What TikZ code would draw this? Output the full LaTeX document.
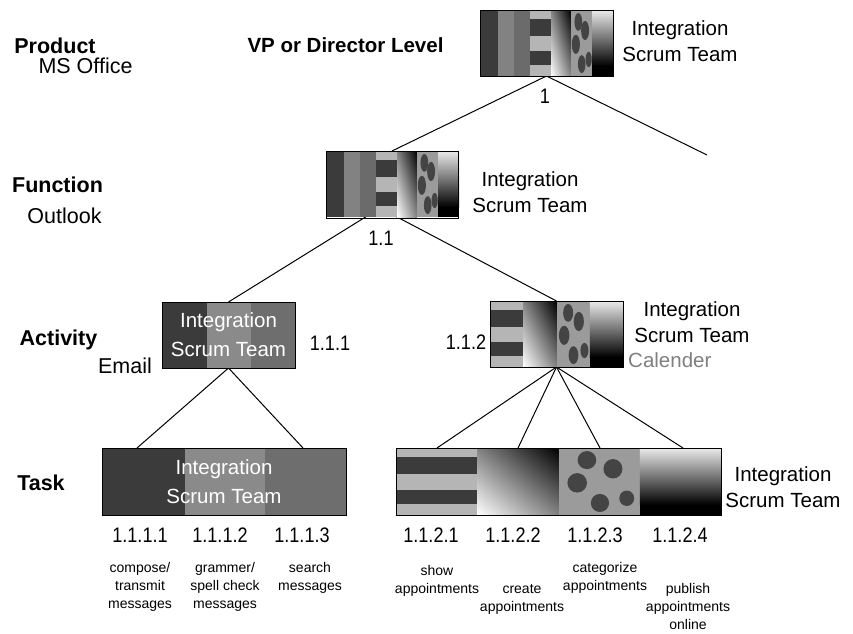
\documentclass[tikz,border=0pt]{standalone}
\usepackage{fontspec}
\setmainfont{Liberation Sans}
\newfontfamily\numfont{Liberation Sans}[FakeStretch=0.86]
\usetikzlibrary{backgrounds,calc,shadings}
\definecolor{dgray}{HTML}{3B3B3B}
\definecolor{mgray}{HTML}{828282}
\definecolor{mgraytwo}{HTML}{6B6B6B}
\definecolor{lgray}{HTML}{B5B5B5}
\definecolor{dotbg}{HTML}{9B9B9B}
\definecolor{dotc}{HTML}{444444}
\definecolor{bandlight}{HTML}{8A8A8A}
\definecolor{bandmid}{HTML}{6E6E6E}
\definecolor{calgray}{HTML}{808080}
\newcommand\fsz[2]{\fontsize{#1}{#2}\selectfont}
% column patterns: x0 y0 w h
\newcommand\ColStripes[4]{%
  \fill[lgray] (#1,#2) rectangle ++(#3,#4);
  \fill[dgray] (#1,{#2+0.13*#4}) rectangle ++(#3,{0.26*#4});
  \fill[dgray] (#1,{#2+0.62*#4}) rectangle ++(#3,{0.22*#4});
}
\newcommand\ColDiag[4]{%
  \shade[upper left=mgray, upper right=black, lower left=white, lower right=mgray]
    (#1,#2) rectangle ++(#3,#4);
}
\newcommand\ColVGrad[4]{%
  \fill[black] (#1,#2) rectangle ++(#3,#4);
  \shade[top color=white!92!black, bottom color=black] (#1,#2) rectangle ++(#3,{0.85*#4});
}
\newcommand\ColDots[4]{%
  \begin{scope}
  \clip (#1,#2) rectangle ++(#3,#4);
  \fill[dotbg] (#1,#2) rectangle ++(#3,#4);
  \fill[dotc] ({#1+0.35*#3},{#2+0.18*#4}) ellipse [x radius={2+0.09*#3}, y radius={0.135*#4}];
  \fill[dotc] ({#1+0.67*#3},{#2+0.31*#4}) ellipse [x radius={1.02*(2+0.09*#3)}, y radius={0.145*#4}];
  \fill[dotc] ({#1+0.23*#3},{#2+0.52*#4}) ellipse [x radius={1.05*(2+0.09*#3)}, y radius={0.145*#4}];
  \fill[dotc] ({#1+0.51*#3},{#2+0.82*#4}) ellipse [x radius={0.98*(2+0.09*#3)}, y radius={0.135*#4}];
  \fill[dotc] ({#1+0.84*#3},{#2+0.75*#4}) ellipse [x radius={0.8*(2+0.09*#3)}, y radius={0.115*#4}];
  \end{scope}
}
% seven-column box (w 133, h 66)
\newcommand\SevenBox[2]{%
  \fill[dgray] (#1,#2) rectangle ++(18,66);
  \fill[mgray] ({#1+18},#2) rectangle ++(16,66);
  \fill[mgraytwo] ({#1+34},#2) rectangle ++(16,66);
  \ColStripes{#1+50}{#2}{21}{66}
  \ColDiag{#1+71}{#2}{20}{66}
  \ColDots{#1+91}{#2}{21}{66}
  \ColVGrad{#1+112}{#2}{21}{66}
}
% four-column box: x0 y0 q h
\newcommand\QuadBox[4]{%
  \ColStripes{#1}{#2}{#3}{#4}
  \ColDiag{#1+#3}{#2}{#3}{#4}
  \ColDots{#1+2*#3}{#2}{#3}{#4}
  \ColVGrad{#1+3*#3}{#2}{#3}{#4}
}
\begin{document}
\begin{tikzpicture}[x=1pt,y=-1pt,
  frame/.style={draw=black, line width=1pt, inner sep=0pt, outer sep=0pt},
  edge/.style={draw=black, line width=1pt},
  lbl/.style={inner sep=0pt, anchor=base},
  head/.style={lbl, font=\bfseries\fsz{21.5}{26}},
  sub/.style={lbl, font=\fsz{21.5}{26}},
  num/.style={lbl, font=\numfont\fsz{21}{24}},
  team/.style={inner sep=0pt, anchor=north, align=center, font=\fsz{20.5}{26.5}},
  small/.style={inner sep=0pt, anchor=north, align=center, font=\fsz{14}{18}},
  inner/.style={frame, align=center, text=white, font=\fsz{20.5}{29}}]
\useasboundingbox (0,0) rectangle (853,633);

% ---- top box (1)
\SevenBox{480}{10}
\node[frame, minimum width=133pt, minimum height=66pt] (top) at (546.5,43) {};
% ---- function box (1.1)
\SevenBox{326}{151}
\node[frame, minimum width=132pt, minimum height=67pt] (func) at (392,184.5) {};
\coordinate (fhub) at (380,208);
% ---- activity 1.1.1
\fill[dgray] (162,302) rectangle ++(45,66);
\fill[bandlight] (207,302) rectangle ++(44,66);
\fill[bandmid] (251,302) rectangle ++(44,66);
\node[inner, minimum width=133pt, minimum height=66pt] (act1) at (228.5,335) {Integration\\Scrum Team};
% ---- activity 1.1.2
\QuadBox{490}{301}{33.25}{66}
\node[frame, minimum width=133pt, minimum height=66pt] (act2) at (556.5,334) {};
% ---- task 1.1.1.x
\fill[dgray] (102,448) rectangle ++(83,67);
\fill[bandlight] (185,448) rectangle ++(80,67);
\fill[bandmid] (265,448) rectangle ++(81,67);
\node[inner, minimum width=244pt, minimum height=67pt] (task1) at (224,481.5) {Integration\\Scrum Team};
% ---- task 1.1.2.x
\QuadBox{396}{448}{81.25}{67}
\node[frame, minimum width=325pt, minimum height=67pt] (task2) at (558.5,481.5) {};

\coordinate (rend) at (707,155);

% ---- connectors
\begin{scope}[on background layer]
  \fill[white] (0,0) rectangle (853,633);
  \draw[edge] (top.south) -- (func.north);
  \draw[edge] (top.south) -- (rend);
  \draw[edge] (fhub) -- (act1.north);
  \draw[edge] (fhub) -- (act2.north);
  \draw[edge] (act1.south) -- ($(task1.north west)+(35,0)$);
  \draw[edge] (act1.south) -- ($(task1.north west)+(201,0)$);
  \draw[edge] (act2.south) -- ($(task2.north west)+(41,0)$);
  \draw[edge] (act2.south) -- ($(task2.north west)+(122,0)$);
  \draw[edge] (act2.south) -- ($(task2.north west)+(204,0)$);
  \draw[edge] (act2.south) -- ($(task2.north west)+(287,0)$);
\end{scope}

% ---- level labels
\node[head] (lprod) at (55,53) {Product};
\node[sub] (lms) at (85.5,73) {MS Office};
\node[lbl, font=\bfseries\fsz{20.5}{26}] (lvp) at (345.5,52) {VP or Director Level};
\node[head] (lfunc) at (57.5,192) {Function};
\node[sub] (lout) at (64.5,223) {Outlook};
\node[head] (lact) at (58.5,345) {Activity};
\node[sub] (lemail) at (125,373) {Email};
\node[head] (ltask) at (41,490) {Task};

% ---- team labels
\node[team] (ttop) at (680,20.3) {Integration\\Scrum Team};
\node[team] (tfunc) at (530,171.3) {Integration\\Scrum Team};
\node[team] (tact) at (692,301.3) {Integration\\Scrum Team};
\node[lbl, anchor=base west, text=calgray, font=\fsz{20.5}{26}] (tcal) at (628,367) {Calender};
\node[team] (ttask) at (783,466.3) {Integration\\Scrum Team};

% ---- numbers
\node[num] (n1) at (545,103) {1};
\node[num] (n11) at (381,245) {1.1};
\node[num] (n111) at (330,350) {1.1.1};
\node[num] (n112) at (466,349) {1.1.2};
\node[num] (n1111) at (140,542) {1.1.1.1};
\node[num] (n1112) at (220,542) {1.1.1.2};
\node[num] (n1113) at (302,542) {1.1.1.3};
\node[num] (n1121) at (431,542) {1.1.2.1};
\node[num] (n1122) at (513,542) {1.1.2.2};
\node[num] (n1123) at (595,542) {1.1.2.3};
\node[num] (n1124) at (680,542) {1.1.2.4};

% ---- task descriptions
\node[small] (d1) at (140,562) {compose/\\transmit\\messages};
\node[small] (d2) at (225,562) {grammer/\\spell check\\messages};
\node[small] (d3) at (310,562) {search\\messages};
\node[small] (d4) at (437,565) {show\\appointments};
\node[small] (d5) at (522,584) {create\\appointments};
\node[small] (d6) at (605,562) {categorize\\appointments};
\node[small] (d7) at (688,583) {publish\\appointments\\online};
\end{tikzpicture}
\end{document}
